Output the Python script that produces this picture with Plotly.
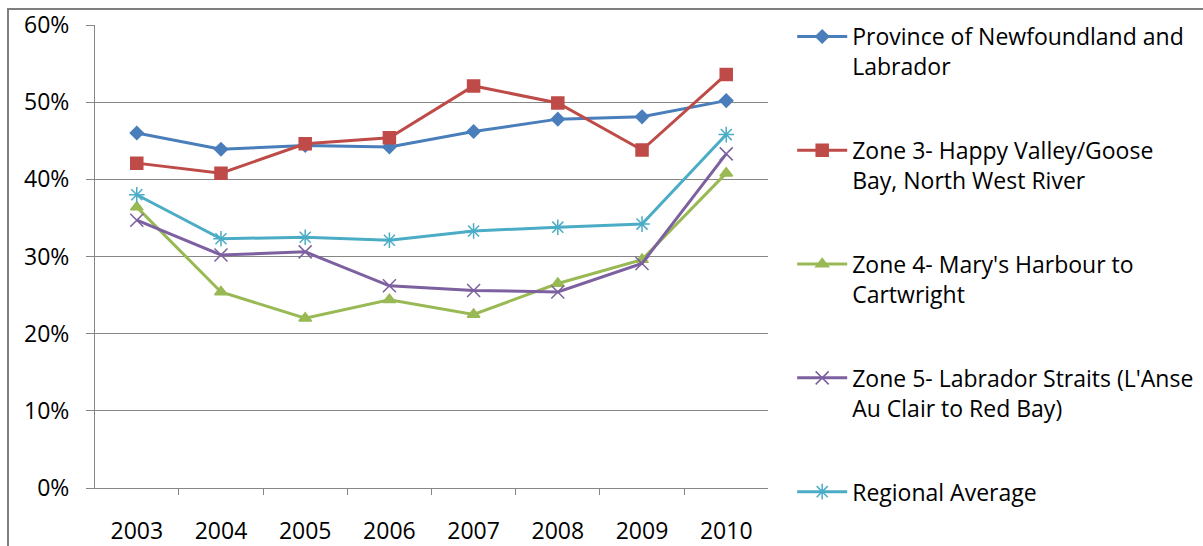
import plotly.graph_objects as go

years = ["2003", "2004", "2005", "2006", "2007", "2008", "2009", "2010"]
province = [0.460, 0.439, 0.444, 0.442, 0.462, 0.478, 0.481, 0.502]
zone3 = [0.421, 0.408, 0.446, 0.454, 0.521, 0.499, 0.438, 0.536]
zone4 = [0.364, 0.254, 0.220, 0.244, 0.225, 0.265, 0.296, 0.408]
zone5 = [0.347, 0.302, 0.306, 0.262, 0.256, 0.254, 0.291, 0.433]
regional = [0.380, 0.323, 0.325, 0.321, 0.333, 0.338, 0.342, 0.458]

names = [
    "Province of Newfoundland and<br>Labrador",
    "Zone 3- Happy Valley/Goose<br>Bay, North West River",
    "Zone 4- Mary's Harbour to<br>Cartwright",
    "Zone 5- Labrador Straits (L'Anse<br>Au Clair to Red Bay)",
    "Regional Average",
]
series = [province, zone3, zone4, zone5, regional]
colors = ["#4A7EBB", "#BE4B48", "#98B954", "#7D60A0", "#4BACC6"]
symbols = ["diamond", "square", "triangle-up", "x-thin-open", "asterisk-open"]
sizes = [10, 12, 11, 13, 13]

FONT = "Open Sans"
fig = go.Figure()
for i, (nm, vals) in enumerate(zip(names, series)):
    fig.add_trace(go.Scatter(
        x=years, y=vals, name=nm, mode="lines+markers",
        legendgroup=f"g{i}",
        line=dict(color=colors[i], width=3),
        marker=dict(symbol=symbols[i], size=sizes[i], color=colors[i],
                    line=dict(color=colors[i], width=1.5)),
    ))

fig.update_layout(
    width=1203, height=546,
    margin=dict(l=95, r=435, t=25, b=58, autoexpand=False),
    paper_bgcolor="white", plot_bgcolor="white",
    font=dict(family=FONT, size=23, color="#000000"),
    showlegend=True,
    legend=dict(
        x=1.03 + 4 / 673, xanchor="left", y=(488 - 15) / 463, yanchor="top",
        font=dict(family=FONT, size=23, color="#000000"),
        tracegroupgap=51, valign="top", itemwidth=50,
        bgcolor="rgba(0,0,0,0)", maxheight=1.0,
    ),
    xaxis=dict(
        type="category", showgrid=False, showline=True, linecolor="#868686",
        linewidth=1, ticks="outside", tickson="boundaries", ticklen=6,
        tickcolor="#868686", ticklabelstandoff=22, automargin=False,
        tickfont=dict(family=FONT, size=23),
    ),
    yaxis=dict(
        range=[0, 0.6], dtick=0.1, tickformat=".0%", showgrid=True,
        gridcolor="#868686", gridwidth=1, showline=True, linecolor="#868686",
        ticks="outside", ticklen=8, tickcolor="#868686", ticklabelstandoff=12,
        zeroline=False, automargin=False, tickfont=dict(family=FONT, size=23),
    ),
    shapes=[dict(type="rect", xref="paper", yref="paper",
                 x0=(8 - 95) / 673, x1=(1230 - 95) / 673,
                 y0=(488 - 580) / 463, y1=(488 - 9) / 463,
                 line=dict(color="#7F7F7F", width=2), layer="below")],
)

fig.write_html("out.html")
